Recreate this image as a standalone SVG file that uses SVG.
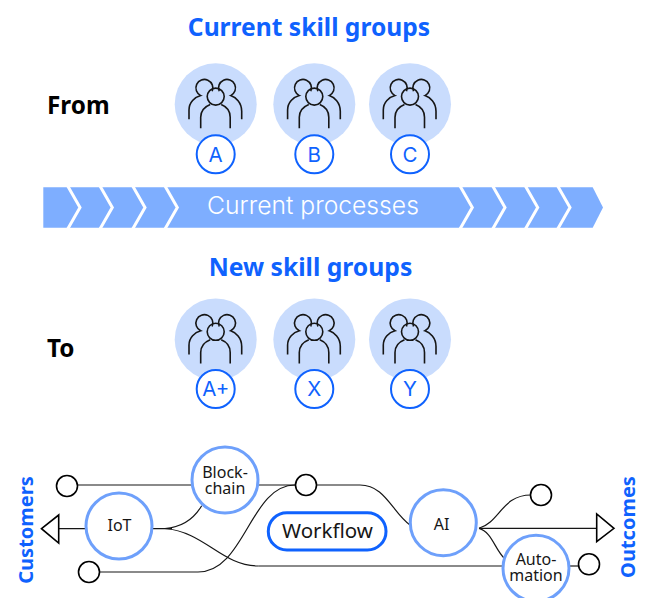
<svg xmlns="http://www.w3.org/2000/svg" width="646" height="598" viewBox="0 0 646 598">
<style>
.h{font-family:"Noto Sans","Liberation Sans",sans-serif;font-weight:700;fill:#0f62fe}
.ft{font-family:"Noto Sans","Liberation Sans",sans-serif;font-weight:700;font-size:24.300px;fill:#000}
.big{fill:#c9dcfd}
.sm{fill:#fff;stroke:#0f62fe;stroke-width:2}
.lt{font-family:"Inter","Noto Sans",sans-serif;font-size:20.500px;font-weight:400;fill:#0f62fe;text-anchor:middle}
.ic{fill:none;stroke:#161616;stroke-width:1.600}
.node{fill:#fff;stroke:#6ea0fb;stroke-width:3}
.dot{fill:#fff;stroke:#000;stroke-width:1.600}
.n{font-family:"Noto Sans","Liberation Sans",sans-serif;font-size:16px;fill:#161616;text-anchor:middle}
.c{fill:none;stroke:#161616;stroke-width:1.200}
.chev{fill:none;stroke:#fff;stroke-width:3}
</style>
<defs>
<g id="people" class="ic">
<path d="M-26.700,15V5.700C-26.700,-2 -21,-7 -15,-8.700A8.500,8.500 0 1 1 -3.500,-13"/>
<path d="M26,15V7C26,-2 20,-7 15,-8.700A8.500,8.500 0 1 0 3.500,-13"/>
<circle cx="0" cy="-7.700" r="8.500"/>
<path d="M-15,24V13C-15,6 -10,2 -5.500,0.200M14.500,24V13C14.500,6 10,2 5.500,0.200"/>
</g>
</defs>
<text class="h" x="309" y="36" font-size="24.600" text-anchor="middle">Current skill groups</text>
<text class="h" x="310.500" y="276" font-size="24.700" text-anchor="middle">New skill groups</text>
<text class="ft" x="47" y="113.500">From</text>
<text class="ft" x="47" y="357">To</text>

<g id="group-a"><circle class="big" cx="215.700" cy="104.300" r="41"/><use href="#people" x="215.700" y="104.300"/><circle class="sm" cx="215.700" cy="154.300" r="19"/><text class="lt" x="215.700" y="161.700">A</text></g>
<g id="group-b"><circle class="big" cx="314.300" cy="104.300" r="41"/><use href="#people" x="314.300" y="104.300"/><circle class="sm" cx="314.300" cy="154.300" r="19"/><text class="lt" x="314.300" y="161.700">B</text></g>
<g id="group-c"><circle class="big" cx="410" cy="104.300" r="41"/><use href="#people" x="410" y="104.300"/><circle class="sm" cx="410" cy="154.300" r="19"/><text class="lt" x="410" y="161.700">C</text></g>

<g id="process-band">
<path d="M43.300,187.300H592.700L603,207.500L592.700,227.700H43.300Z" fill="#7eaeff"/>
<path class="chev" d="M67.700,186L80,207.500L67.700,229M100,186L112.300,207.500L100,229M132.700,186L145,207.500L132.700,229M165,186L177.300,207.500L165,229M460,186L472.300,207.500L460,229M492.700,186L505,207.500L492.700,229M525.400,186L537.700,207.500L525.400,229M557.700,186L570,207.500L557.700,229"/>
<text x="313" y="214" font-family="Inter,'Noto Sans',sans-serif" font-size="24.700" font-weight="300" fill="#fff" text-anchor="middle">Current processes</text>
</g>

<g id="group-a-plus"><circle class="big" cx="215.700" cy="339.500" r="41"/><use href="#people" x="215.700" y="339.500"/><circle class="sm" cx="215.700" cy="389" r="19"/><text class="lt" x="215.700" y="396">A+</text></g>
<g id="group-x"><circle class="big" cx="314.300" cy="339.500" r="41"/><use href="#people" x="314.300" y="339.500"/><circle class="sm" cx="314.300" cy="389" r="19"/><text class="lt" x="314.300" y="396">X</text></g>
<g id="group-y"><circle class="big" cx="410" cy="339.500" r="41"/><use href="#people" x="410" y="339.500"/><circle class="sm" cx="410" cy="389" r="19"/><text class="lt" x="410" y="396">Y</text></g>

<g id="connectors">
<path class="c" d="M77.700,485H192M258,485H295"/>
<path class="c" d="M58.700,528.700H86M152,528.700H172"/>
<path class="c" d="M165,528.500C185,527 195,517 201.700,505.700"/>
<path class="c" d="M165,528.500C205,532 222,566 258.300,566"/>
<path class="c" stroke-width="1.500" d="M258.300,566H503"/>
<path class="c" d="M100,572H198C245,572 250,485 295,485"/>
<path class="c" d="M316,485H360C385,485 392,512 410,525"/>
<path class="c" d="M479,528.300H597"/>
<path class="c" d="M479,528.300C500,522 502,495 531,495"/>
<path class="c" d="M479,528.300C492,532 495,550 505,559"/>
<path class="c" d="M569,566H579"/>
</g>

<g id="customers"><path fill="#fff" stroke="#000" stroke-width="1.600" d="M41.500,528.700L58.700,515V543Z"/><text class="h" font-size="20" text-anchor="middle" transform="translate(32.500,530) rotate(-90)">Customers</text></g>
<g id="outcomes"><path fill="#fff" stroke="#000" stroke-width="1.600" d="M614,528.300L596.700,514V541.700Z"/><text class="h" font-size="20" text-anchor="middle" transform="translate(635,527) rotate(-90)">Outcomes</text></g>

<g id="dot1"><circle class="dot" cx="67" cy="486" r="10.500"/></g>
<g id="dot2"><circle class="dot" cx="89" cy="572" r="10.500"/></g>
<g id="dot3"><circle class="dot" cx="306" cy="485" r="10.500"/></g>
<g id="dot4"><circle class="dot" cx="541" cy="495" r="10.500"/></g>
<g id="dot5"><circle class="dot" cx="589" cy="564.300" r="10.500"/></g>

<g id="iot"><circle class="node" cx="119" cy="526" r="33"/><text class="n" x="119.500" y="531">IoT</text></g>
<g id="blockchain"><circle class="node" cx="225" cy="480" r="33"/><text class="n" x="225"><tspan x="225" y="478">Block-</tspan><tspan x="225" y="494">chain</tspan></text></g>
<g id="ai"><circle class="node" cx="443.300" cy="522.700" r="33"/><text class="n" x="441.500" y="530">AI</text></g>
<g id="automation"><circle class="node" cx="536" cy="568.300" r="33"/><text class="n" x="536"><tspan x="536" y="565">Auto-</tspan><tspan x="536" y="581">mation</tspan></text></g>
<g id="workflow"><rect x="268.300" y="512.700" width="117.700" height="37.300" rx="18.600" fill="#fff" stroke="#0f62fe" stroke-width="3"/><text x="327.500" y="537.500" font-family="'Noto Sans',sans-serif" font-size="20.500" fill="#161616" text-anchor="middle">Workflow</text></g>
</svg>
